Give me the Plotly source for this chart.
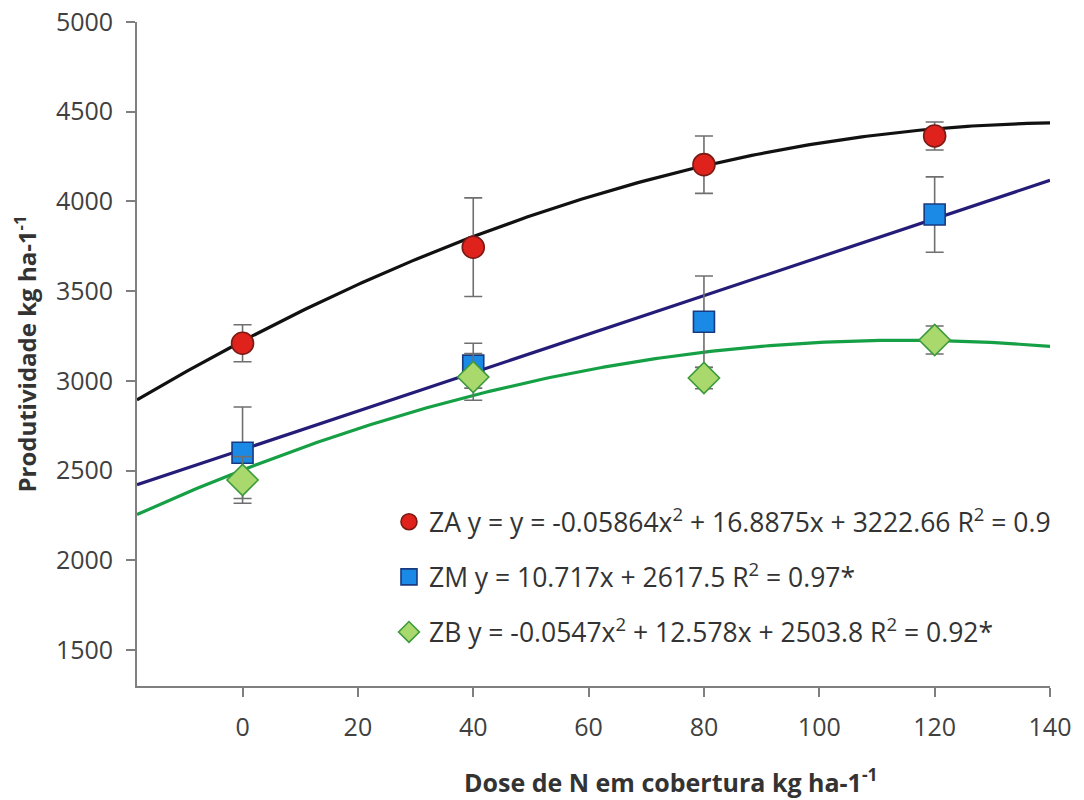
import numpy as np
import plotly.graph_objects as go

doses = [0, 40, 80, 120]

za_vals = [3210, 3745, 4205, 4365]
za_err = [103, 275, 160, 78]
zm_vals = [2600, 3085, 3330, 3927]
zm_err = [255, 125, 255, 210]
zb_vals = [2448, 3022, 3016, 3228]
zb_err = [130, 130, 60, 78]

za_coef = [-0.05864, 16.8875, 3222.66]
zm_coef = [0.0, 10.717, 2617.5]
zb_coef = [-0.0547, 12.578, 2503.8]

za_label = "ZA y = y = -0.05864x<sup>2</sup> + 16.8875x + 3222.66 R<sup>2</sup> = 0.9"
zm_label = "ZM y = 10.717x + 2617.5 R<sup>2</sup> = 0.97*"
zb_label = "ZB y = -0.0547x<sup>2</sup> + 12.578x + 2503.8 R<sup>2</sup> = 0.92*"

x_ticks = [0, 20, 40, 60, 80, 100, 120, 140]
y_ticks = [1500, 2000, 2500, 3000, 3500, 4000, 4500, 5000]

X_MIN, X_MAX = -18.3, 140
xs = np.linspace(X_MIN, X_MAX, 200)

def fit(c):
    return c[0] * xs ** 2 + c[1] * xs + c[2]

FONT = "Open Sans, Lato, sans-serif"
fig = go.Figure()

fig.add_trace(go.Scatter(x=xs, y=fit(za_coef), mode="lines",
                         line=dict(color="#111111", width=3.2), showlegend=False, hoverinfo="skip"))
fig.add_trace(go.Scatter(x=xs, y=fit(zm_coef), mode="lines",
                         line=dict(color="#251c78", width=3.2), showlegend=False, hoverinfo="skip"))
fig.add_trace(go.Scatter(x=xs, y=fit(zb_coef), mode="lines",
                         line=dict(color="#16a045", width=3.2), showlegend=False, hoverinfo="skip"))

err_style = dict(type="data", visible=True, color="#6f6f6f", thickness=1.6, width=9)

fig.add_trace(go.Scatter(
    x=doses, y=zm_vals, mode="markers", name=zm_label, legend="legend2",
    error_y=dict(array=zm_err, **err_style),
    marker=dict(symbol="square", size=21, color="#1a8ae6", line=dict(color="#173a80", width=1.6))))
fig.add_trace(go.Scatter(
    x=doses, y=zb_vals, mode="markers", name=zb_label, legend="legend3",
    error_y=dict(array=zb_err, **err_style),
    marker=dict(symbol="diamond", size=24, color="#a9d86c", line=dict(color="#3c9a3c", width=1.6))))
fig.add_trace(go.Scatter(
    x=doses, y=za_vals, mode="markers", name=za_label, legend="legend",
    error_y=dict(array=za_err, **err_style),
    marker=dict(symbol="circle", size=22, color="#e0221c", line=dict(color="#7a1a14", width=1.6))))

leg_common = dict(x=0.276, xanchor="left", yanchor="middle", bgcolor="rgba(0,0,0,0)",
                  font=dict(family=FONT, size=26.5, color="#333333"), itemsizing="trace")

fig.update_layout(
    width=1084, height=800,
    paper_bgcolor="white", plot_bgcolor="white",
    margin=dict(l=129, r=42, t=14, b=122),
    font=dict(family=FONT, color="#404040"),
    legend=dict(y=0.247, **leg_common),
    legend2=dict(y=0.164, **leg_common),
    legend3=dict(y=0.081, **leg_common),
    xaxis=dict(range=[X_MIN, X_MAX], tickvals=x_ticks, ticks="outside", ticklen=9,
               tickcolor="#7f7f7f", tickwidth=1.5, showline=True, linecolor="#7f7f7f",
               linewidth=1.8, showgrid=False, zeroline=False, ticklabelstandoff=9,
               automargin=False, ticklabeloverflow="allow",
               tickfont=dict(family=FONT, size=25, color="#404040")),
    yaxis=dict(range=[1300, 5000], tickvals=y_ticks, ticks="outside", ticklen=9,
               tickcolor="#7f7f7f", tickwidth=1.5, showline=True, linecolor="#7f7f7f",
               linewidth=1.8, showgrid=False, zeroline=False, ticklabelstandoff=8,
               automargin=False, ticklabeloverflow="allow",
               tickfont=dict(family=FONT, size=25, color="#404040"),
               title=dict(text="<b>Produtividade kg ha-1<sup>-1</sup></b>", standoff=13,
                          font=dict(family=FONT, size=24, color="#333333"))),
    annotations=[dict(text="<b>Dose de N em cobertura kg ha-1<sup>-1</sup></b>",
                      xref="paper", yref="paper", x=0.585, y=-0.1416,
                      xanchor="center", yanchor="middle", showarrow=False,
                      font=dict(family=FONT, size=25, color="#333333"))],
)

fig.write_html("out.html")
